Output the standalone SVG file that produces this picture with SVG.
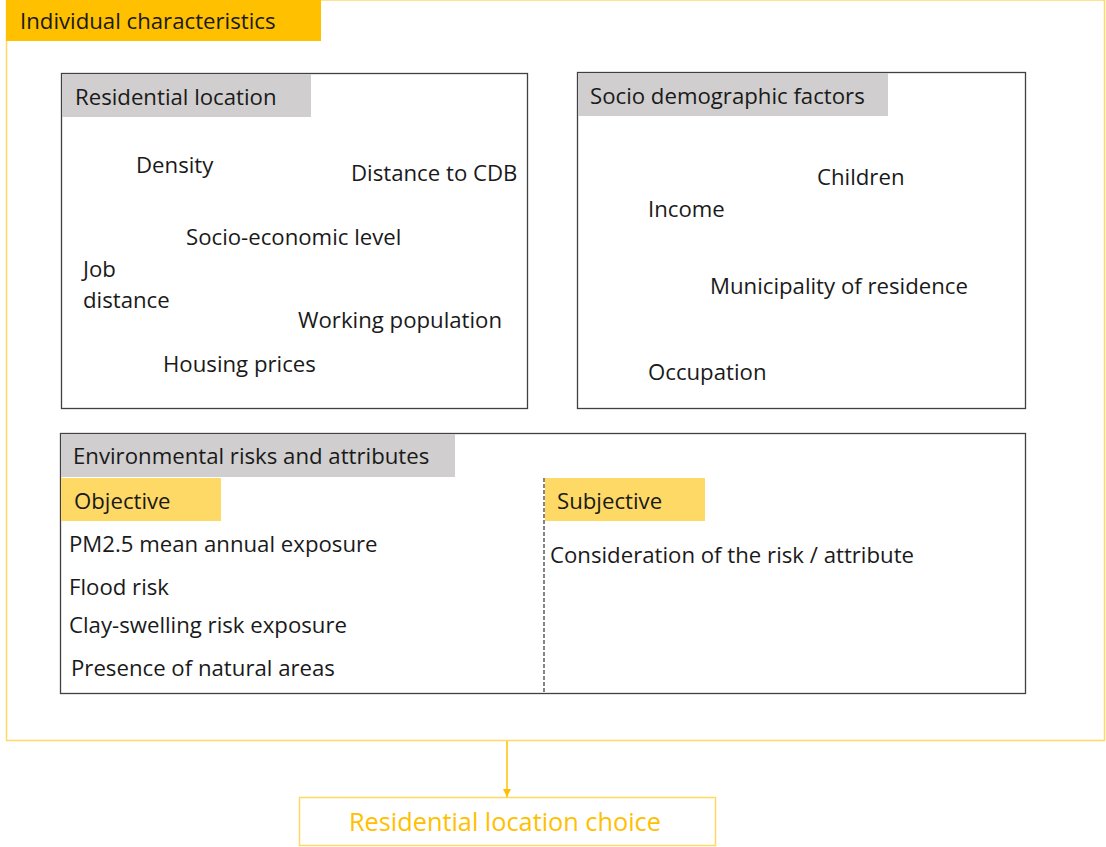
<svg xmlns="http://www.w3.org/2000/svg" width="1106" height="847" viewBox="0 0 1106 847">
<defs>
<style>
text{font-family:"Open Sans","Liberation Sans",sans-serif;font-size:22.2px;fill:#1a1a1a}
.box{fill:none;stroke:#404040;stroke-width:1.3}
.hdr{fill:#d0cece}
.yel{fill:#ffd966}
</style>
<marker id="arr" viewBox="0 0 10 10" refX="10" refY="5" markerWidth="8" markerHeight="8" orient="auto" markerUnits="userSpaceOnUse"><path d="M0,0 L10,5 L0,10 z" fill="#ffc000"/></marker>
</defs>
<rect width="1106" height="847" fill="#ffffff"/>
<g id="individual">
<rect x="6.5" y="0" width="1098" height="740.5" fill="none" stroke="#ffd966" stroke-width="1.5"/>
<rect x="6" y="0" width="315" height="41" fill="#ffc000"/>
<text x="20" y="29">Individual characteristics</text>
</g>
<g id="residential">
<rect class="box" x="61.5" y="73.5" width="466" height="335"/>
<rect class="hdr" x="62" y="74" width="249" height="43"/>
<text x="75" y="105">Residential location</text>
<text x="136" y="173">Density</text>
<text x="351" y="181">Distance to CDB</text>
<text x="186" y="245">Socio-economic level</text>
<text x="83" y="277">Job</text>
<text x="83" y="308">distance</text>
<text x="298" y="328">Working population</text>
<text x="163" y="372">Housing prices</text>
</g>
<g id="socio">
<rect class="box" x="577.5" y="72.5" width="448" height="336"/>
<rect class="hdr" x="578" y="73" width="310" height="43"/>
<text x="590" y="104">Socio demographic factors</text>
<text x="817" y="185">Children</text>
<text x="648" y="217">Income</text>
<text x="710" y="294">Municipality of residence</text>
<text x="648" y="380">Occupation</text>
</g>
<g id="environment">
<rect class="box" x="60.5" y="433.5" width="965" height="260"/>
<rect class="hdr" x="61" y="434" width="394" height="43"/>
<text x="73" y="464">Environmental risks and attributes</text>
<rect class="yel" x="61" y="478" width="160" height="43"/>
<text x="74" y="509">Objective</text>
<rect class="yel" x="545" y="478" width="160" height="43"/>
<text x="557" y="509">Subjective</text>
<line x1="544" y1="478" x2="544" y2="693" stroke="#333333" stroke-width="1.2" stroke-dasharray="4,2"/>
<text x="69" y="552">PM2.5 mean annual exposure</text>
<text x="69" y="595">Flood risk</text>
<text x="69" y="633">Clay-swelling risk exposure</text>
<text x="71" y="676">Presence of natural areas</text>
<text x="550" y="563">Consideration of the risk / attribute</text>
</g>
<g id="choice">
<rect x="299.5" y="797.5" width="416" height="48" fill="none" stroke="#ffd966" stroke-width="1.5"/>
<text x="349" y="831" style="fill:#ffc000;font-size:25.3px">Residential location choice</text>
</g>
<g id="connectors">
<line x1="507" y1="741" x2="507" y2="797" stroke="#ffc000" stroke-width="1.5" marker-end="url(#arr)"/>
</g>
</svg>
